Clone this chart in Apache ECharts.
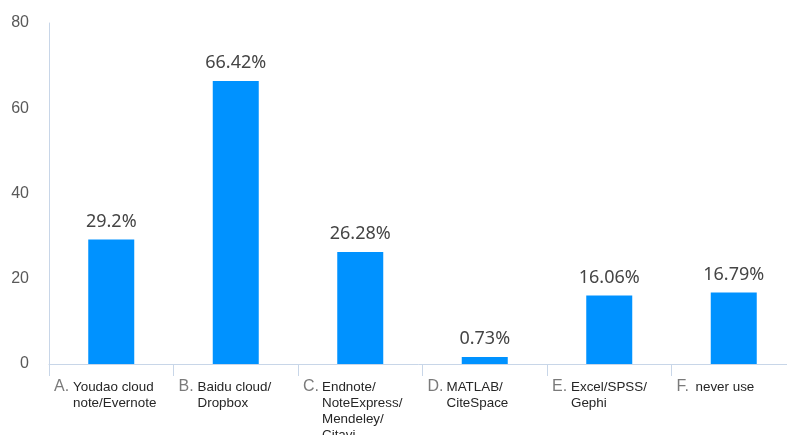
<!DOCTYPE html>
<html>
<head>
<meta charset="utf-8">
<script src="https://cdn.jsdelivr.net/npm/echarts@6/dist/echarts.min.js"></script>
<style>html,body{margin:0;padding:0;background:#fff}#c{width:787px;height:435px}</style>
</head>
<body>
<div id="c"></div>
<script>
var prefixes = ['A.', 'B.', 'C.', 'D.', 'E.', 'F.'];
var categories = ['Youdao cloud\nnote/Evernote', 'Baidu cloud/\nDropbox', 'Endnote/\nNoteExpress/\nMendeley/\nCitavi', 'MATLAB/\nCiteSpace', 'Excel/SPSS/\nGephi', 'never use'];
var values = [29.2, 66.42, 26.28, 0.73, 16.06, 16.79];
var yTicks = [0, 20, 40, 60, 80];

var labelData = categories.map(function (c, i) {
  var lines = c.split('\n');
  return lines.map(function (l, j) {
    return (j === 0 ? '{p|' + prefixes[i] + '}' : '{s| }') + '{t|' + l + '}';
  }).join('\n');
});
labelData.push('');

var chart = echarts.init(document.getElementById('c'));
chart.setOption({
  animation: false,
  grid: { left: 49, top: 23, bottom: 71, width: 747, containLabel: false, outerBoundsMode: 'none' },
  xAxis: [{
    type: 'category',
    position: 'bottom',
    data: categories,
    axisLine: { lineStyle: { color: '#c8d6e8', width: 1 } },
    axisTick: { show: true, length: 12, lineStyle: { color: '#c8d6e8' } },
    axisLabel: { show: false }
  }, {
    type: 'category',
    position: 'bottom',
    boundaryGap: false,
    data: labelData,
    axisLine: { show: false },
    axisTick: { show: false },
    axisLabel: {
      interval: 0,
      align: 'left',
      verticalAlign: 'top',
      margin: 15,
      rich: {
        p: { fontFamily: 'Liberation Sans', fontSize: 16, color: '#7a7a7a', width: 19, padding: [0, 0, 0, 5], lineHeight: 16 },
        s: { fontFamily: 'Liberation Sans', fontSize: 13.4, width: 19, padding: [0, 0, 0, 5], lineHeight: 16 },
        t: { fontFamily: 'Liberation Sans', fontSize: 13.4, color: '#262626', lineHeight: 16 }
      }
    }
  }],
  yAxis: {
    type: 'value',
    min: yTicks[0],
    max: yTicks[yTicks.length - 1],
    interval: 20,
    axisLine: { show: true, lineStyle: { color: '#c8d6e8' } },
    axisTick: { show: false },
    splitLine: { show: false },
    axisLabel: { fontFamily: 'Liberation Sans', fontSize: 16, color: '#595959', margin: 20 }
  },
  series: [{
    type: 'bar',
    xAxisIndex: 0,
    data: values,
    barWidth: 46,
    barMinHeight: 7,
    itemStyle: { color: '#0092ff' },
    label: {
      show: true,
      position: 'top',
      distance: 9,
      fontFamily: 'Noto Sans',
      fontSize: 18,
      color: '#454545',
      formatter: function (p) { return p.value + '%'; }
    }
  }]
});
</script>
</body>
</html>
